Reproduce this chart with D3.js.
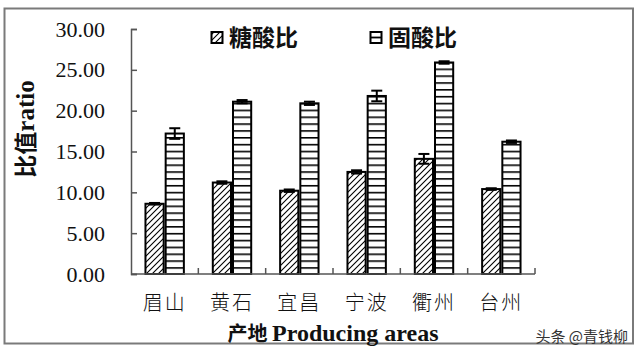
<!DOCTYPE html>
<html><head><meta charset="utf-8">
<script src="https://cdn.jsdelivr.net/npm/d3@7/dist/d3.min.js"></script>
<style>body{margin:0;background:#fff;}svg{display:block;}</style>
</head><body>
<svg id="c" width="640" height="357"></svg>
<script>
const categories = ["眉山","黄石","宜昌","宁波","衢州","台州"];
const seriesNames = ["糖酸比","固酸比"];
const sugarAcid = [8.6, 11.2, 10.2, 12.5, 14.1, 10.4];
const sugarAcidErr = [0.1, 0.15, 0.15, 0.2, 0.6, 0.1];
const solidAcid = [17.2, 21.1, 20.9, 21.8, 25.9, 16.2];
const solidAcidErr = [0.65, 0.2, 0.2, 0.65, 0.15, 0.15];
const yTicks = [0, 5, 10, 15, 20, 25, 30];

const svg = d3.select("#c");
const defs = svg.append("defs");
const ph = defs.append("pattern").attr("id","hatch").attr("patternUnits","userSpaceOnUse")
  .attr("width",6).attr("height",6);
ph.append("rect").attr("width",6).attr("height",6).attr("fill","#fff");
ph.append("path").attr("d","M-1,1 l2,-2 M0,6 l6,-6 M5,7 l2,-2").attr("stroke","#000").attr("stroke-width",1.1);
const ps = defs.append("pattern").attr("id","stripe").attr("patternUnits","userSpaceOnUse")
  .attr("width",10).attr("height",6.85).attr("y",274);
ps.append("rect").attr("width",10).attr("height",6.85).attr("fill","#fff");
ps.append("line").attr("x1",0).attr("x2",10).attr("y1",0.8).attr("y2",0.8).attr("stroke","#000").attr("stroke-width",1.6);

svg.append("rect").attr("x",4.5).attr("y",8.5).attr("width",628.5).attr("height",335)
  .attr("fill","none").attr("stroke","#7a7a7a").attr("stroke-width",2);

const x0 = d3.scaleBand().domain(categories).range([131,535]).paddingInner(0.4).paddingOuter(0.2);
const x1 = d3.scaleBand().domain(seriesNames).range([0, x0.bandwidth()]);
const y = d3.scaleLinear().domain([0,30]).range([274,29]);

const data = categories.map((c,i)=>[
  {c, s:seriesNames[0], v:sugarAcid[i], e:sugarAcidErr[i], fill:"url(#hatch)"},
  {c, s:seriesNames[1], v:solidAcid[i], e:solidAcidErr[i], fill:"url(#stripe)"}
]).flat();

svg.append("g").selectAll("rect").data(data).join("rect")
  .attr("x",d=>x0(d.c)+x1(d.s)+1)
  .attr("y",d=>y(d.v))
  .attr("width",x1.bandwidth()-2)
  .attr("height",d=>y(0)-y(d.v))
  .attr("fill",d=>d.fill).attr("stroke","#000").attr("stroke-width",2);

const eg = svg.append("g").attr("stroke","#000").attr("stroke-width",2);
data.forEach(d=>{
  const cx = x0(d.c)+x1(d.s)+x1.bandwidth()/2;
  eg.append("line").attr("x1",cx).attr("x2",cx).attr("y1",y(d.v-d.e)).attr("y2",y(d.v+d.e));
  eg.append("line").attr("x1",cx-5.5).attr("x2",cx+5.5).attr("y1",y(d.v+d.e)).attr("y2",y(d.v+d.e));
  eg.append("line").attr("x1",cx-5.5).attr("x2",cx+5.5).attr("y1",y(d.v-d.e)).attr("y2",y(d.v-d.e));
});

const yAxis = d3.axisLeft(y).tickValues(yTicks).tickSizeInner(-6).tickSizeOuter(-6).tickPadding(26)
  .tickFormat(d3.format(".2f"));
const yg = svg.append("g").attr("transform","translate(131,0)").call(yAxis);
yg.select(".domain").attr("stroke","#555").attr("stroke-width",1.5);
yg.selectAll(".tick line").attr("stroke","#555").attr("stroke-width",1.5);
yg.selectAll(".tick text").attr("font-family","'Liberation Serif','Times New Roman',serif")
  .attr("font-size",22).attr("fill","#111");

const xg = svg.append("g").attr("transform","translate(0,274)");
xg.append("line").attr("x1",131).attr("x2",535).attr("y1",0).attr("y2",0).attr("stroke","#555").attr("stroke-width",1.5);
const bounds = categories.map(c=>x0(c)+x0.bandwidth()+x0.step()*0.2);
xg.selectAll("line.t").data(bounds).join("line").attr("class","t")
  .attr("x1",d=>d).attr("x2",d=>d).attr("y1",0).attr("y2",-6).attr("stroke","#555").attr("stroke-width",1.5);
xg.selectAll("text").data(categories).join("text")
  .attr("x",d=>x0(d)+x0.bandwidth()/2).attr("y",36)
  .attr("text-anchor","middle")
  .attr("font-family","'Noto Sans CJK SC',sans-serif").attr("font-weight",300).attr("font-size",20)
  .attr("letter-spacing",2).attr("fill","#111").text(d=>d);

svg.append("text").attr("transform","translate(34,129) rotate(-90)").attr("text-anchor","middle")
  .attr("font-size",23).attr("font-weight","bold").attr("fill","#111")
  .html("<tspan font-family=\"'Noto Sans CJK SC',sans-serif\">比值</tspan><tspan font-family=\"'Liberation Serif',serif\" font-size=\"25\">ratio</tspan>");
svg.append("text").attr("x",333).attr("y",341).attr("text-anchor","middle")
  .attr("font-size",20).attr("font-weight","bold").attr("fill","#111")
  .html("<tspan font-family=\"'Noto Sans CJK SC',sans-serif\">产地 </tspan><tspan font-family=\"'Liberation Serif',serif\" font-size=\"24\">Producing areas</tspan>");

const leg = [{x:211, fill:"url(#hatch)", name:seriesNames[0]},{x:370, fill:"legstripe", name:seriesNames[1]}];
leg.forEach(l=>{
  const g = svg.append("g");
  g.append("rect").attr("x",l.x+0.5).attr("y",32).attr("width",11).attr("height",11)
    .attr("fill",l.fill==="legstripe"?"#fff":l.fill).attr("stroke","#000").attr("stroke-width",2);
  if(l.fill==="legstripe"){
    g.append("line").attr("x1",l.x+0.5).attr("x2",l.x+11.5).attr("y1",37.5).attr("y2",37.5).attr("stroke","#000").attr("stroke-width",1.8);
  }
  g.append("text").attr("x",l.x+18).attr("y",46).attr("font-family","'Noto Sans CJK SC',sans-serif")
    .attr("font-weight","bold").attr("font-size",23).attr("fill","#111").text(l.name);
});

svg.append("text").attr("x",628).attr("y",342).attr("text-anchor","end")
  .attr("font-family","'Noto Sans CJK SC',sans-serif").attr("font-size",15).attr("fill","#333")
  .text("头条 @青钱柳");
</script>
</body></html>
